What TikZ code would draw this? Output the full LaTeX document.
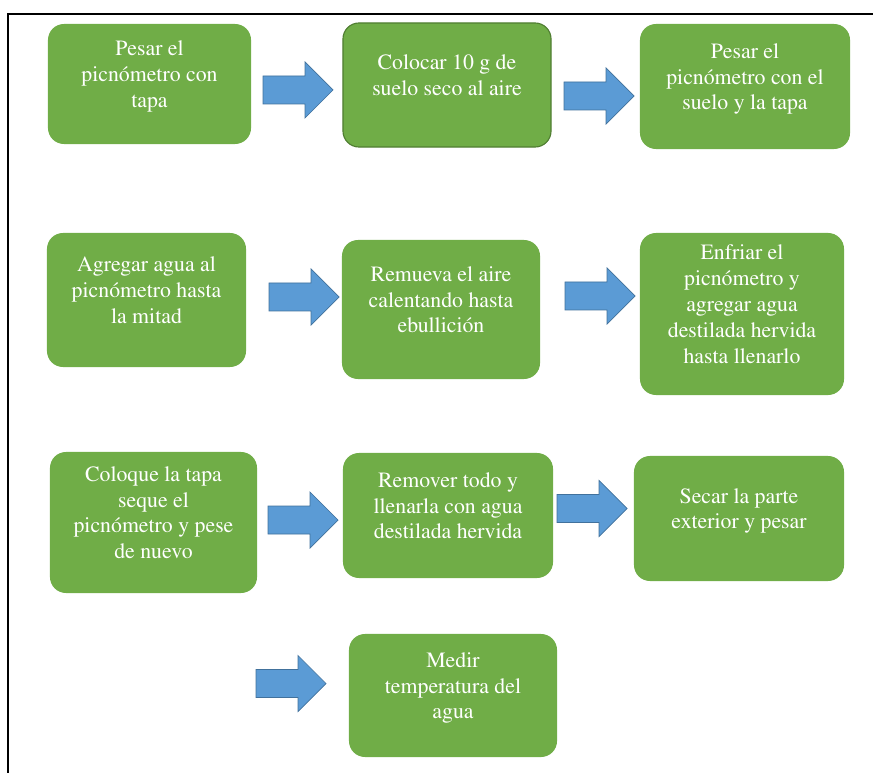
\documentclass[tikz,border=0pt]{standalone}
\usepackage[T1]{fontenc}
\usepackage{mathptmx}
\definecolor{step_green}{RGB}{112, 173, 71}
\definecolor{step_edge}{RGB}{80, 126, 50}
\definecolor{arr_blue}{RGB}{91, 155, 213}
\definecolor{arr_edge}{RGB}{65, 113, 156}
\tikzstyle{stepbox}=[rectangle,rounded corners=0.4cm,fill=step_green,
  text=white,align=center,inner sep=2pt,text depth=14pt,
  font=\fontsize{15.5}{18.4}\selectfont]
\tikzstyle{barrow}=[fill=arr_blue,draw=arr_edge,line width=0.5pt,line join=miter]
% block arrow starting at a named coordinate
\newcommand{\blockarrow}[1]{
  \draw[barrow] (#1) ++(0,-14) -- ++(42,0) -- ++(0,-14) -- ++(28,28)
    -- ++(-28,28) -- ++(0,-14) -- ++(-42,0) -- cycle;}

\begin{document}
\begin{tikzpicture}[x=0.025cm,y=-0.025cm]
    \useasboundingbox (0,0) rectangle (873,773);
    \coordinate (frametop) at (873,14);
    \coordinate (framecorner) at (8,14);
    \coordinate (framebottom) at (8,773);
    \draw[line width=1.3pt] (frametop) -- (framecorner) -- (framebottom);
    % first row
    \node [style=stepbox,minimum width=5.075cm,minimum height=3cm] (pesar) at (149.5,84)
      {Pesar el\\picnómetro con\\tapa};
    \node [style=stepbox,draw=step_edge,line width=0.8pt,minimum width=5.2cm,minimum height=3.1cm] (colocar) at (447,85)
      {Colocar 10 g de\\suelo seco al aire};
    \node [style=stepbox,minimum width=5.25cm,minimum height=3.125cm] (pesarsuelo) at (745,86.5)
      {Pesar el\\picnómetro con el\\suelo y la tapa};
    % second row
    \node [style=stepbox,minimum width=4.975cm,minimum height=3.35cm] (agregar) at (146.5,300)
      {Agregar agua al\\picnómetro hasta\\la mitad};
    \node [style=stepbox,minimum width=4.95cm,minimum height=3.475cm] (remueva) at (441,309.5)
      {Remueva el aire\\calentando hasta\\ebullición};
    \node [style=stepbox,minimum width=5.1cm,minimum height=4.05cm] (enfriar) at (742,314)
      {Enfriar el\\picnómetro y\\agregar agua\\destilada hervida\\hasta llenarlo};
    % third row
    \node [style=stepbox,minimum width=5.175cm,minimum height=3.525cm] (coloque) at (153.5,522.5)
      {Coloque la tapa\\seque el\\picnómetro y pese\\de nuevo};
    \node [style=stepbox,minimum width=5.25cm,minimum height=3.125cm] (remover) at (448,515.5)
      {Remover todo y\\llenarla con agua\\destilada hervida};
    \node [style=stepbox,minimum width=5.25cm,minimum height=3.125cm] (secar) at (739,518.5)
      {Secar la parte\\exterior y pesar};
    % last row
    \node [style=stepbox,minimum width=5.2cm,minimum height=3.075cm] (medir) at (453,695.5)
      {Medir\\temperatura del\\agua};
    % arrows
    \coordinate (a1) at (263,90);
    \coordinate (a2) at (564,96);
    \coordinate (a3) at (269,297);
    \coordinate (a4) at (565,296);
    \coordinate (a5) at (268,520);
    \coordinate (a6) at (557,508.5);
    \coordinate (a7) at (256,683.5);
    \foreach \a in {a1,a2,a3,a4,a5,a6,a7}
      {\blockarrow{\a}}
  \end{tikzpicture}
\end{document}
